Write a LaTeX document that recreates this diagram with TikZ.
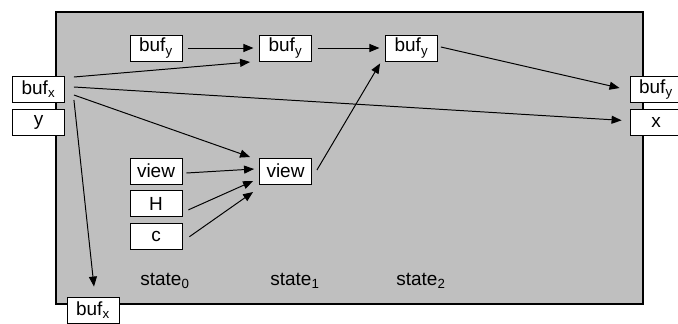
\documentclass[tikz,border=0pt]{standalone}
\usepackage{fontspec}
\setmainfont{Liberation Sans}
\usetikzlibrary{arrows.meta,positioning}

\begin{document}
\begin{tikzpicture}[
  x=0.025cm, y=-0.025cm,
  node distance=0.15cm,
  cell/.style={draw, fill=white, line width=0.6pt, minimum width=1.3cm, minimum height=0.65cm, inner sep=0pt, font=\fontsize{13.5}{16}\selectfont},
  lbl/.style={font=\fontsize{13.5}{16}\selectfont},
  line/.style={-{Triangle[length=2.5mm,width=2mm]}, line width=0.7pt}
]
\useasboundingbox (0,0) rectangle (678,323);
\filldraw[fill=black!25, draw=black, line width=1pt] (56,12) rectangle (643,304);

\node[cell] (by0) at (156,48) {buf\textsubscript{y}};
\node[cell] (by1) at (285.5,48) {buf\textsubscript{y}};
\node[cell] (by2) at (411.5,48) {buf\textsubscript{y}};
\node[cell] (bxl) at (38.5,89.5) {buf\textsubscript{x}};
\node[cell, below=of bxl] (yl) {y};
\node[cell] (byr) at (656,89.5) {buf\textsubscript{y}};
\node[cell, below=of byr] (xr) {x};
\node[cell] (v0) at (156,171) {view};
\node[cell, below=of v0] (h) {H};
\node[cell, below=of h] (c) {c};
\node[cell] (v1) at (285.5,171) {view};
\node[cell] (bxb) at (93,310) {buf\textsubscript{x}};

\node[lbl] (s0) at (165,281) {state\textsubscript{0}};
\node[lbl] (s1) at (295,281) {state\textsubscript{1}};
\node[lbl] (s2) at (421,281) {state\textsubscript{2}};

\draw[line] ([xshift=4]by0.east) -- ([xshift=-4]by1.west);
\draw[line] ([xshift=4]by1.east) -- ([xshift=-4]by2.west);
\draw[line] ([shift={(3,-1)}]by2.east) -- ([shift={(-10,-1.5)}]byr.west);
\draw[line] ([shift={(9,-12.5)}]bxl.east) -- ([shift={(-9,14)}]by1.west);
\draw[line] ([shift={(9,-2.5)}]bxl.east) -- ([shift={(-8,-2)}]xr.west);
\draw[line] ([shift={(9,5.5)}]bxl.east) -- ([shift={(-9,-14)}]v1.west);
\draw[line] ([shift={(9,10.5)}]bxl.east) -- ([shift={(1,-10)}]bxb.north);
\draw[line] ([shift={(4,2)}]v0.east) -- ([shift={(-5,-2)}]v1.west);
\draw[line] ([shift={(6,6)}]h.east) -- ([shift={(-6,10)}]v1.west);
\draw[line] ([shift={(7,0)}]c.east) -- ([shift={(-6,21)}]v1.west);
\draw[line] ([shift={(5,-1)}]v1.east) -- ([shift={(-5,2)}]by2.south west);
\end{tikzpicture}
\end{document}
